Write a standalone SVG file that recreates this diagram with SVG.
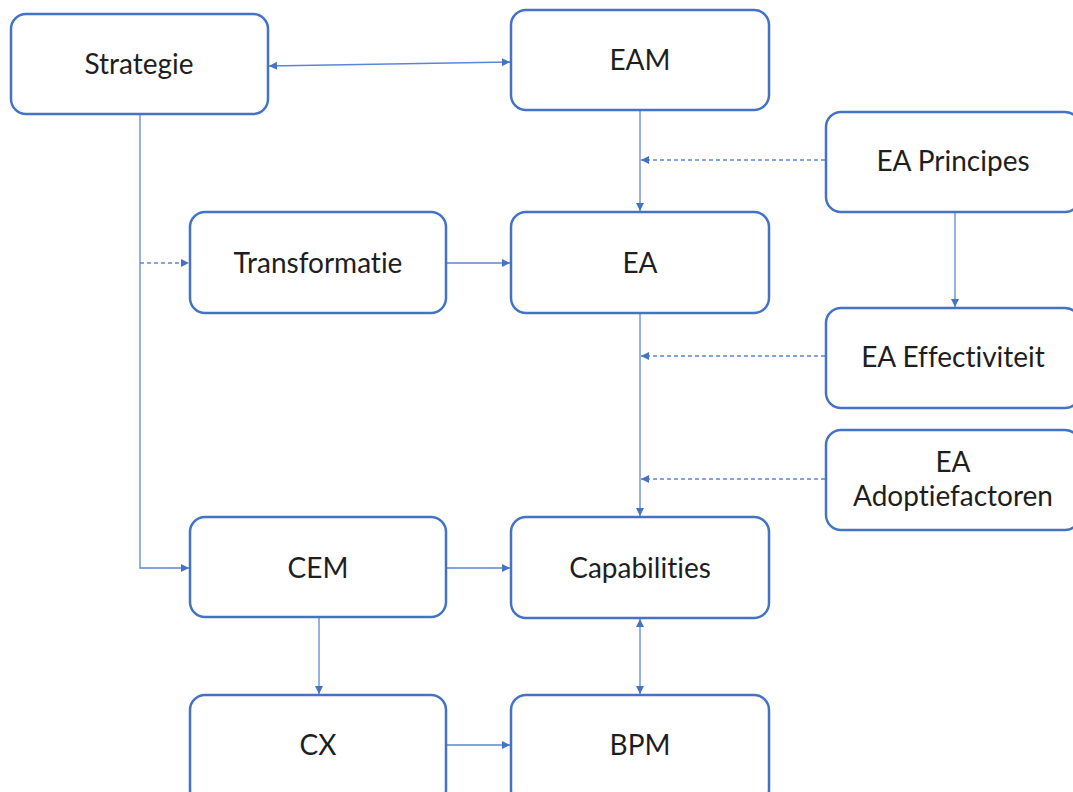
<svg xmlns="http://www.w3.org/2000/svg" width="1073" height="792" viewBox="0 0 1073 792">
<style>
.box{fill:#fff;stroke:#4472C4;stroke-width:2.5}
.lbl{font-family:Lato,"Liberation Sans",sans-serif;font-size:28px;fill:#1e1e1e;text-anchor:middle;font-variant-ligatures:none;font-feature-settings:"liga" 0}
.c{fill:none;stroke:#5B86D6;stroke-width:1.3}
.d{stroke-dasharray:4,3}
</style>
<defs>
<marker id="ah" markerWidth="10" markerHeight="10" refX="9" refY="5" orient="auto" markerUnits="userSpaceOnUse">
<path d="M1,1 L9,5 L1,9 Z" fill="#4472C4"/>
</marker>
<marker id="as" markerWidth="10" markerHeight="10" refX="1" refY="5" orient="auto" markerUnits="userSpaceOnUse">
<path d="M9,1 L1,5 L9,9 Z" fill="#4472C4"/>
</marker>
</defs>
<rect width="1073" height="792" fill="#fff"/>
<g id="connectors">
<line class="c" x1="269" y1="66" x2="510" y2="62" marker-start="url(#as)" marker-end="url(#ah)"/>
<polyline class="c" points="140,115 140,568 189,568" marker-end="url(#ah)"/>
<line class="c d" x1="140" y1="263" x2="189" y2="263" marker-end="url(#ah)"/>
<line class="c" x1="447" y1="263" x2="510" y2="263" marker-end="url(#ah)"/>
<line class="c" x1="640" y1="111" x2="640" y2="211" marker-end="url(#ah)"/>
<line class="c d" x1="825" y1="160" x2="641" y2="160" marker-end="url(#ah)"/>
<line class="c" x1="955" y1="213" x2="955" y2="307" marker-end="url(#ah)"/>
<line class="c" x1="640" y1="314" x2="640" y2="516" marker-end="url(#ah)"/>
<line class="c d" x1="825" y1="356" x2="641" y2="356" marker-end="url(#ah)"/>
<line class="c d" x1="825" y1="479" x2="641" y2="479" marker-end="url(#ah)"/>
<line class="c" x1="447" y1="568" x2="510" y2="568" marker-end="url(#ah)"/>
<line class="c" x1="319" y1="618" x2="319" y2="694" marker-end="url(#ah)"/>
<line class="c" x1="640" y1="619" x2="640" y2="694" marker-start="url(#as)" marker-end="url(#ah)"/>
<line class="c" x1="447" y1="745" x2="510" y2="745" marker-end="url(#ah)"/>
</g>
<g id="strategie"><rect class="box" x="11" y="14" width="257" height="100" rx="15"/><text class="lbl" x="139" y="74">Strategie</text></g>
<g id="eam"><rect class="box" x="511" y="10" width="258" height="100" rx="15"/><text class="lbl" x="640" y="70">EAM</text></g>
<g id="ea-principes"><rect class="box" x="826" y="112" width="254" height="100" rx="15"/><text class="lbl" x="953" y="171">EA Principes</text></g>
<g id="transformatie"><rect class="box" x="190" y="212" width="256" height="101" rx="15"/><text class="lbl" x="318" y="273">Transformatie</text></g>
<g id="ea"><rect class="box" x="511" y="212" width="258" height="101" rx="15"/><text class="lbl" x="640" y="273">EA</text></g>
<g id="ea-effectiviteit"><rect class="box" x="826" y="308" width="254" height="100" rx="15"/><text class="lbl" x="953" y="367">EA Effectiviteit</text></g>
<g id="ea-adoptiefactoren"><rect class="box" x="826" y="430" width="254" height="100" rx="15"/><text class="lbl" x="953" y="472">EA</text><text class="lbl" x="953" y="506">Adoptiefactoren</text></g>
<g id="cem"><rect class="box" x="190" y="517" width="256" height="100" rx="15"/><text class="lbl" x="318" y="578">CEM</text></g>
<g id="capabilities"><rect class="box" x="511" y="517" width="258" height="101" rx="15"/><text class="lbl" x="640" y="578">Capabilities</text></g>
<g id="cx"><rect class="box" x="190" y="695" width="256" height="110" rx="15"/><text class="lbl" x="318" y="755">CX</text></g>
<g id="bpm"><rect class="box" x="511" y="695" width="258" height="110" rx="15"/><text class="lbl" x="640" y="755">BPM</text></g>
</svg>
